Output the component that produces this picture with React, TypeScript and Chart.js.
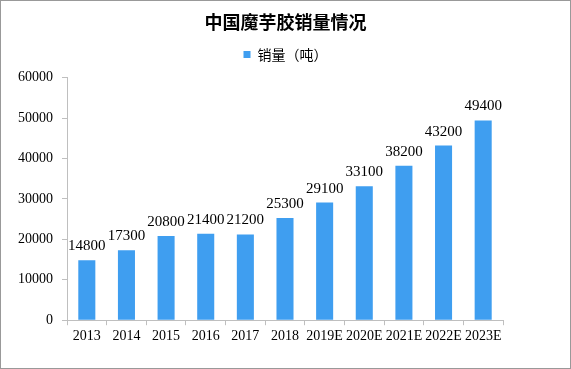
import React, { useEffect, useRef } from "react";
import { Chart, registerables } from "chart.js";

Chart.register(...registerables);

const categories = ["2013", "2014", "2015", "2016", "2017", "2018", "2019E", "2020E", "2021E", "2022E", "2023E"];
const salesValues = [14800, 17300, 20800, 21400, 21200, 25300, 29100, 33100, 38200, 43200, 49400];
const seriesName = "销量（吨）";
const titleText = "中国魔芋胶销量情况";

const BAR_COLOR = "#3f9ef0";
const AXIS_COLOR = "#bfbfbf";
const SERIF = "'Liberation Serif', 'DejaVu Serif', serif";
const CJK = "'Noto Sans CJK SC', 'Noto Sans', sans-serif";

const valueLabels = {
  id: "valueLabels",
  afterDatasetsDraw(chart: any) {
    const ctx = chart.ctx;
    const meta = chart.getDatasetMeta(0);
    ctx.save();
    ctx.font = `15px ${SERIF}`;
    ctx.fillStyle = "#000";
    ctx.textAlign = "center";
    ctx.textBaseline = "alphabetic";
    meta.data.forEach((bar: any, i: number) => {
      ctx.fillText(String(salesValues[i]), bar.x, bar.y - 10);
    });
    ctx.restore();
  },
};

export default function App() {
  const ref = useRef<HTMLCanvasElement | null>(null);
  useEffect(() => {
    document.body.style.margin = "0";
    const chart = new Chart(ref.current!, {
      type: "bar",
      data: {
        labels: categories,
        datasets: [
          {
            label: seriesName,
            data: salesValues,
            backgroundColor: BAR_COLOR,
            barPercentage: 0.86,
            categoryPercentage: 0.5,
            xAxisID: "x",
            yAxisID: "y",
          },
        ],
      },
      options: {
        responsive: false,
        animation: false,
        layout: { padding: { left: 0, right: 0, top: 0, bottom: 20 } },
        plugins: {
          title: {
            display: true,
            text: titleText,
            color: "#000",
            font: { family: CJK, size: 18, weight: "bold" },
            padding: { top: 10, bottom: 7 },
          },
          legend: {
            display: true,
            labels: {
              boxWidth: 7,
              boxHeight: 7,
              color: "#000",
              font: { family: CJK, size: 14 },
              padding: 8,
            },
          },
          tooltip: { enabled: false },
        },
        scales: {
          x: {
            grid: { display: true, drawOnChartArea: false, tickLength: 5, color: AXIS_COLOR, offset: true },
            border: { color: AXIS_COLOR },
            ticks: { color: "#000", font: { family: SERIF, size: 14 }, autoSkip: false, maxRotation: 0, padding: 3 },
          },
          xTop: {
            type: "category",
            position: "top",
            afterFit: (s: any) => {
              s.height = 6;
            },
            grid: { display: false },
            border: { display: false },
            ticks: { display: false },
          },
          y: {
            min: 0,
            max: 60000,
            position: "left",
            afterFit: (s: any) => {
              s.width = 66;
            },
            grid: { display: true, drawOnChartArea: false, tickLength: 5, color: AXIS_COLOR },
            border: { color: AXIS_COLOR },
            ticks: {
              stepSize: 10000,
              color: "#000",
              font: { family: SERIF, size: 14 },
              padding: 9,
              callback: (v: any) => String(v),
            },
          },
          yRight: {
            position: "right",
            min: 0,
            max: 60000,
            afterFit: (s: any) => {
              s.width = 67;
            },
            grid: { display: false },
            border: { display: false },
            ticks: { display: false },
          },
        },
      },
      plugins: [valueLabels],
    });
    return () => chart.destroy();
  }, []);
  return (
    <div
      style={{
        position: "absolute",
        left: 0,
        top: 0,
        width: 571,
        height: 369,
        boxSizing: "border-box",
        border: "1px solid #999",
        background: "#fff",
      }}
    >
      <canvas ref={ref} width={569} height={367} style={{ display: "block" }} />
    </div>
  );
}
